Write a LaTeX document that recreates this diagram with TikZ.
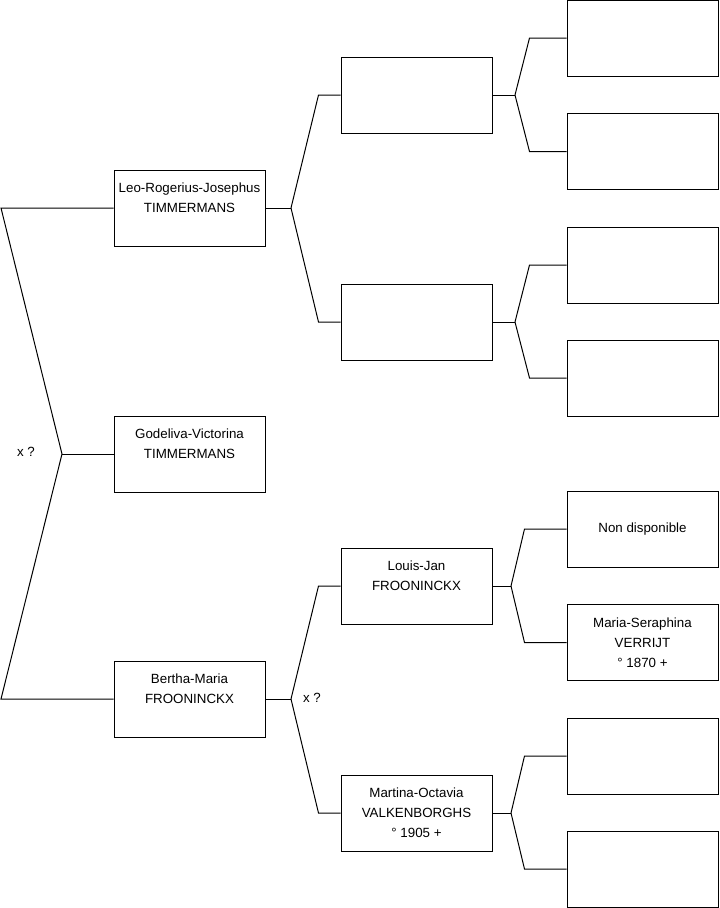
\documentclass[tikz,border=0pt]{standalone}
\usepackage{fontspec}
\setmainfont{Liberation Sans}

\tikzset{every picture/.style={line width=0.75pt}}
\tikzset{
  person/.style={draw, rectangle, minimum width=113.25pt, minimum height=57pt,
    inner sep=0.75pt, align=center, font=\fontsize{10}{15}\selectfont},
  marriage/.style={inner sep=0.75pt, font=\fontsize{10}{12}\selectfont}
}

\begin{document}
\begin{tikzpicture}[x=0.75pt,y=0.75pt,yscale=-1,xscale=1]
	%set diagram to the size of the reference
	\useasboundingbox (0,0) rectangle (719,908);
	
	%Shape: Rectangle [generation 1]
	\node [person] (leo) at (189.5,208) {Leo-Rogerius-Josephus\\TIMMERMANS\\~};
	\node [person] (godeliva) at (189.5,454) {Godeliva-Victorina\\TIMMERMANS\\~};
	\node [person] (bertha) at (189.5,699) {Bertha-Maria\\FROONINCKX\\~};
	
	%Shape: Rectangle [generation 2]
	\node [person] (leofa) at (416.5,95) {};
	\node [person] (leomo) at (416.5,322) {};
	\node [person] (louis) at (416.5,586) {Louis-Jan\\FROONINCKX\\~};
	\node [person] (martina) at (416.5,813) {Martina-Octavia\\VALKENBORGHS\\\textdegree{} 1905 +};
	
	%Shape: Rectangle [generation 3]
	\node [person] (leofafa) at (642.5,38) {};
	\node [person] (leofamo) at (642.5,151.5) {};
	\node [person] (leomofa) at (642.5,265) {};
	\node [person] (leomomo) at (642.5,378) {};
	\node [person] (louisfa) at (642.5,529) {Non disponible};
	\node [person] (maria) at (642.5,642.5) {Maria-Seraphina\\VERRIJT\\\textdegree{} 1870 +};
	\node [person] (martinafa) at (642.5,756) {};
	\node [person] (martinamo) at (642.5,869) {};
	
	%Straight Lines [siblings]
	\coordinate (sib1) at (1,208);
	\coordinate (sib0) at (62,454);
	\coordinate (sib2) at (1,699);
	\draw (leo.west) -- (sib1) -- (sib0) -- (sib2) -- (bertha.west);
	\draw (sib0) -- (godeliva.west);
	
	%Straight Lines [parents of Leo]
	\coordinate (fleo) at (291,208);
	\draw (leo.east) -- (fleo);
	\draw (leofa.west) -- ++(-22,0) -- (fleo);
	\draw (leomo.west) -- ++(-22,0) -- (fleo);
	
	%Straight Lines [parents of Bertha]
	\coordinate (fbertha) at (291,699);
	\draw (bertha.east) -- (fbertha);
	\draw (louis.west) -- ++(-22,0) -- (fbertha);
	\draw (martina.west) -- ++(-22,0) -- (fbertha);
	
	%Straight Lines [generation 3]
	\coordinate (fleofa) at (515,95);
	\draw (leofa.east) -- (fleofa);
	\draw (leofafa.west) -- ++(-37,0) -- (fleofa);
	\draw (leofamo.west) -- ++(-37,0) -- (fleofa);
	
	\coordinate (fleomo) at (515,322);
	\draw (leomo.east) -- (fleomo);
	\draw (leomofa.west) -- ++(-37,0) -- (fleomo);
	\draw (leomomo.west) -- ++(-37,0) -- (fleomo);
	
	\coordinate (flouis) at (511,586);
	\draw (louis.east) -- (flouis);
	\draw (louisfa.west) -- ++(-42,0) -- (flouis);
	\draw (maria.west) -- ++(-42,0) -- (flouis);
	
	\coordinate (fmartina) at (511,813);
	\draw (martina.east) -- (fmartina);
	\draw (martinafa.west) -- ++(-42,0) -- (fmartina);
	\draw (martinamo.west) -- ++(-42,0) -- (fmartina);
	
	% Text Node
	\node [marriage] (xsib) at (26,452) {x ?};
	% Text Node
	\node [marriage] (xbertha) at (312,698) {x ?};
	
\end{tikzpicture}
\end{document}
